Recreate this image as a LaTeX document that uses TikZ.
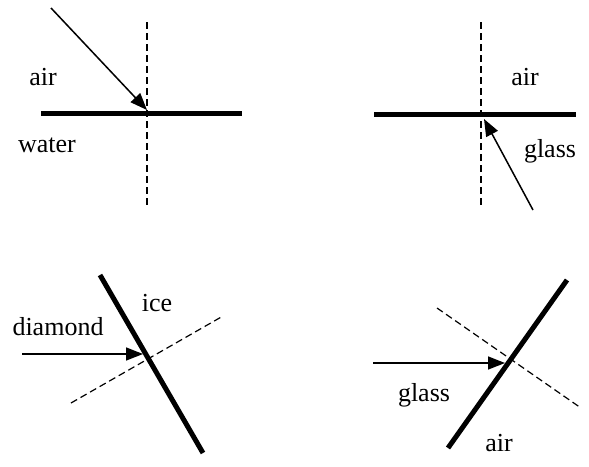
\documentclass[tikz,border=0pt]{standalone}
\usepackage{fontspec}
\setmainfont{Liberation Serif}
\usetikzlibrary{arrows.meta}

\begin{document}
\begin{tikzpicture}[
      x=1pt, y=-1pt,
      surface/.style={line width=5pt},
      normline/.style={line width=1.2pt, dash pattern=on 7pt off 4pt},
      ray/.style={-{Triangle[length=17pt, width=13pt]}, line width=1.5pt},
      medium/.style={font=\fontsize{26}{30}\selectfont, inner sep=0pt, anchor=base}
    ]
      \useasboundingbox (0,0) rectangle (589,466);
      % air -> water
      \coordinate (aw1) at (41,113);
      \coordinate (aw2) at (242,113);
      \coordinate (awn1) at (147,22);
      \coordinate (awn2) at (147,205);
      \coordinate (awsrc) at (51,8);
      \coordinate (awhit) at (147,110);
      \draw[surface] (aw1) -- (aw2);
      \draw[normline] (awn1) -- (awn2);
      \draw[ray] (awsrc) -- (awhit);
      \node[medium] (awair) at (43,85) {air};
      \node[medium] (awwater) at (47,152) {water};
      % glass -> air
      \coordinate (ga1) at (374,114);
      \coordinate (ga2) at (576,114);
      \coordinate (gan1) at (481,22);
      \coordinate (gan2) at (481,205);
      \coordinate (gasrc) at (533,210);
      \coordinate (gahit) at (484,119);
      \draw[surface] (ga1) -- (ga2);
      \draw[normline] (gan1) -- (gan2);
      \draw[ray] (gasrc) -- (gahit);
      \node[medium] (gaair) at (525,85) {air};
      \node[medium] (gaglass) at (550,157) {glass};
      % diamond -> ice
      \coordinate (di1) at (100,275);
      \coordinate (di2) at (203,453);
      \coordinate (din1) at (71,403);
      \coordinate (din2) at (223,316);
      \coordinate (disrc) at (22,354);
      \coordinate (dihit) at (143,354);
      \draw[surface] (di1) -- (di2);
      \draw[normline] (din1) -- (din2);
      \draw[ray] (disrc) -- (dihit);
      \node[medium] (diice) at (157,311) {ice};
      \node[medium] (didiamond) at (58,335) {diamond};
      % glass -> air, tilted
      \coordinate (gt1) at (448,448);
      \coordinate (gt2) at (567,280);
      \coordinate (gtn1) at (437,308);
      \coordinate (gtn2) at (581,408);
      \coordinate (gtsrc) at (373,363);
      \coordinate (gthit) at (505,363);
      \draw[surface] (gt1) -- (gt2);
      \draw[normline] (gtn1) -- (gtn2);
      \draw[ray] (gtsrc) -- (gthit);
      \node[medium] (gtglass) at (424,401) {glass};
      \node[medium] (gtair) at (499,451) {air};
    \end{tikzpicture}
\end{document}
